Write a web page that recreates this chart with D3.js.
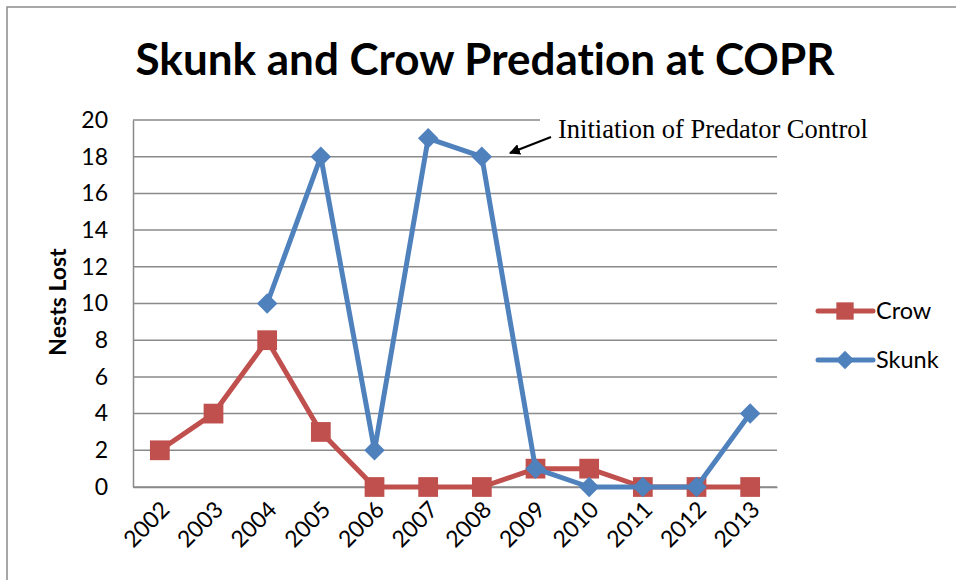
<!DOCTYPE html>
<html><head><meta charset="utf-8">
<script src="https://cdn.jsdelivr.net/npm/d3@7"></script>
<style>body{margin:0;background:#fff}svg{display:block}text{font-variant-ligatures:none;font-feature-settings:"liga" 0}</style>
</head><body>
<svg id="c" width="956" height="580"></svg>
<script>
const years = ["2002","2003","2004","2005","2006","2007","2008","2009","2010","2011","2012","2013"];
const crow  = [2,4,8,3,0,0,0,1,1,0,0,0];
const skunk = [null,null,10,18,2,19,18,1,0,0,0,4];
const yTicks = [0,2,4,6,8,10,12,14,16,18,20];
const seriesNames = ["Crow","Skunk"];
const colors = ["#C0504D","#4F81BD"];
const titleText = "Skunk and Crow Predation at COPR";
const yTitle = "Nests Lost";
const noteText = "Initiation of Predator Control";

const svg = d3.select("#c");
const F = "Lato, 'Open Sans', sans-serif";
const L = 133, R = 777, T = 120, B = 487;

svg.append("rect").attr("x",7).attr("y",7).attr("width",1000).attr("height",1000)
  .attr("fill","#fff").attr("stroke","#8c8c8c").attr("stroke-width",1.5);

const x = d3.scaleBand().domain(years).range([L,R]);
const y = d3.scaleLinear().domain([0,20]).range([B,T]);

svg.append("g").selectAll("line").data(yTicks).join("line")
  .attr("x1",L).attr("x2",R).attr("y1",d=>y(d)).attr("y2",d=>y(d))
  .attr("stroke","#8a8a8a").attr("stroke-width",1.5);

const ya = svg.append("g").attr("transform",`translate(${L},0)`)
  .call(d3.axisLeft(y).tickValues(yTicks).tickSize(0).tickPadding(25));
ya.select(".domain").attr("stroke","#8a8a8a").attr("stroke-width",1.5);
ya.selectAll("text").attr("font-family",F).attr("font-size",23).attr("fill","#000");

const xa = svg.append("g").attr("transform",`translate(0,${B})`)
  .call(d3.axisBottom(x).tickSize(0));
xa.select(".domain").attr("stroke","#8a8a8a").attr("stroke-width",1.5);
xa.selectAll("text").attr("font-family",F).attr("font-size",23).attr("fill","#000")
  .attr("text-anchor","end").attr("dy",0)
  .attr("transform","translate(9,22) rotate(-45)");

const data = [crow, skunk];
const line = d3.line().defined(d=>d.v!==null).x(d=>x(d.k)+x.bandwidth()/2).y(d=>y(d.v));
const sq = d3.symbol().type(d3.symbolSquare);
data.forEach((arr,i)=>{
  const pts = years.map((k,j)=>({k,v:arr[j]}));
  svg.append("path").datum(pts).attr("d",line).attr("fill","none")
    .attr("stroke",colors[i]).attr("stroke-width",5).attr("stroke-linejoin","round");
  svg.append("g").selectAll("path").data(pts.filter(d=>d.v!==null)).join("path")
    .attr("d",sq.size(i===0?390:210)()).attr("fill",colors[i])
    .attr("transform",d=>`translate(${x(d.k)+x.bandwidth()/2},${y(d.v)})${i===1?" rotate(45)":""}`);
});

svg.append("text").attr("x",485).attr("y",75).attr("text-anchor","middle")
  .attr("font-family",F).attr("font-weight","bold").attr("font-size",44).attr("fill","#000")
  .text(titleText);

svg.append("text").attr("transform","translate(66,302) rotate(-90)").attr("text-anchor","middle")
  .attr("font-family",F).attr("font-weight","bold").attr("font-size",23).attr("fill","#000")
  .text(yTitle);

const lg = svg.append("g");
[311,360].forEach((ly,i)=>{
  lg.append("line").attr("x1",818).attr("x2",873).attr("y1",ly).attr("y2",ly)
    .attr("stroke",colors[i]).attr("stroke-width",5).attr("stroke-linecap","round");
  lg.append("path").attr("d",sq.size(i===0?300:170)()).attr("fill",colors[i])
    .attr("transform",`translate(845,${ly})${i===1?" rotate(45)":""}`);
  lg.append("text").attr("x",876).attr("y",ly+8).attr("font-family",F).attr("font-size",23.5)
    .attr("fill","#000").text(seriesNames[i]);
});

svg.append("rect").attr("x",540).attr("y",108).attr("width",240).attr("height",38).attr("fill","#fff");
svg.append("text").attr("x",558).attr("y",138).attr("font-family","'Liberation Serif','Times New Roman',serif")
  .attr("font-size",26.5).attr("fill","#000").text(noteText);
svg.append("defs").append("marker").attr("id","ah").attr("viewBox","0 0 10 10").attr("refX",9).attr("refY",5)
  .attr("markerWidth",5).attr("markerHeight",5).attr("orient","auto")
  .append("path").attr("d","M0,0 L10,5 L0,10 z").attr("fill","#000");
svg.append("line").attr("x1",551).attr("y1",137).attr("x2",510).attr("y2",153)
  .attr("stroke","#000").attr("stroke-width",2.2).attr("marker-end","url(#ah)");
</script>
</body></html>
